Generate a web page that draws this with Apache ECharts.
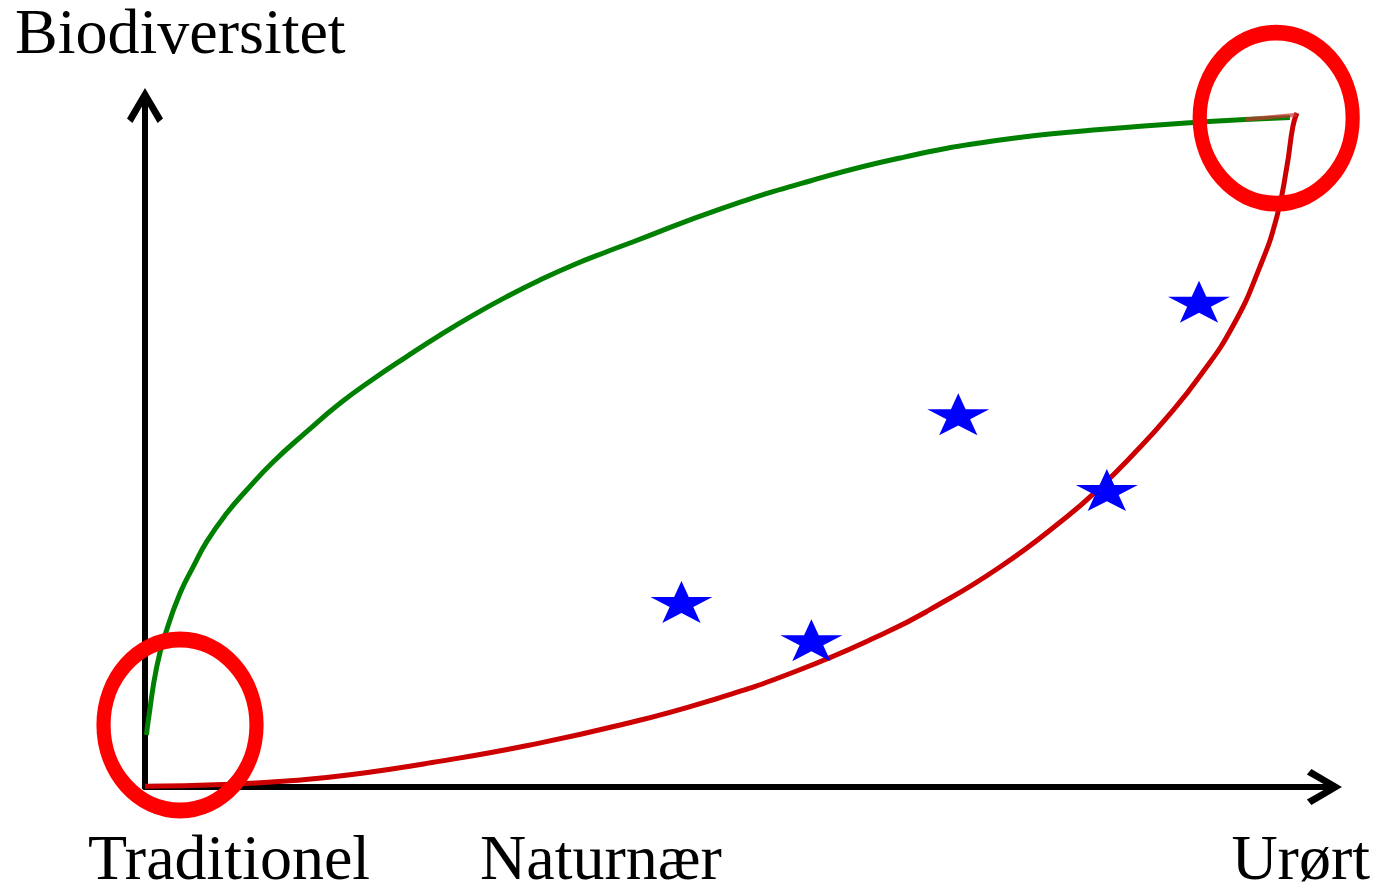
<!DOCTYPE html>
<html>
<head>
<meta charset="utf-8">
<script src="https://cdn.jsdelivr.net/npm/echarts@6/dist/echarts.min.js"></script>
<style>
html,body{margin:0;padding:0;background:#fff;}
#chart{width:1378px;height:885px;}
</style>
</head>
<body>
<div id="chart"></div>
<script>
// ---- data ----
const yTitle = 'Biodiversitet';
const xLabels = ['Traditionel', 'Naturnær', 'Urørt'];

// green curve (upper)
const greenCurve = [
  [0.13, 7.76], [0.29, 10.0], [1.02, 17.95], [1.88, 23.42], [3.04, 28.90],
  [4.19, 32.87], [5.36, 36.60], [7.09, 40.83], [8.83, 44.31], [11.14, 48.53],
  [14.04, 53.01], [16.93, 57.24], [19.82, 60.87], [22.72, 64.22], [25.61, 67.43],
  [28.50, 70.41], [31.40, 73.15], [34.29, 75.64], [37.18, 77.88], [40.08, 79.86],
  [42.39, 81.35], [49.91, 86.23], [57.73, 90.41], [65.54, 93.84], [74.22, 96.52],
  [82.90, 98.09], [91.58, 99.21], [99.39, 99.88]
];

// red curve (lower)
const redCurve = [
  [0, 0.1], [6.77, 0.37], [12.59, 0.92], [17.80, 1.82], [25.52, 3.82],
  [33.33, 6.24], [41.06, 9.17], [48.78, 12.75], [56.51, 17.27], [64.32, 23.05],
  [68.14, 26.46], [74.22, 32.82], [80.03, 40.33], [82.90, 44.65], [85.76, 49.57],
  [88.72, 55.15], [91.58, 61.32], [94.44, 68.78], [96.79, 77.64], [98.26, 85.11],
  [99.13, 92.57], [99.65, 98.57], [100.0, 100.55]
];
const redTail = [[100, 100.3], [95.5, 99.6]];

// blue stars
const stars = [
  [46.57, 27.6], [57.85, 21.9], [70.6, 55.6], [83.5, 44.3], [91.5, 72.4]
];

// red highlight circles (centres)
const circles = [
  [3.04, 9.25], [98.2, 99.8]
];

// ---- chart ----
const arrowPath = 'path://M20,0 L40,34 L34,39 L23,20 L23,40 L17,40 L17,20 L6,39 L0,34 Z';
const starPath = 'path://M50,0 L61.23,34.55 L97.55,34.55 L68.17,55.9 L79.39,90.45 L50,69.1 L20.61,90.45 L31.83,55.9 L2.45,34.55 L38.77,34.55 Z';
const ellipsePath = 'path://M50,0 C77.6,0 100,22.4 100,50 C100,77.6 77.6,100 50,100 C22.4,100 0,77.6 0,50 C0,22.4 22.4,0 50,0 Z';

const chart = echarts.init(document.getElementById('chart'));
const font = '64px "Liberation Serif", "Times New Roman", serif';

const axisCommon = {
  type: 'value',
  min: 0,
  axisLine: {
    show: true,
    symbol: ['none', arrowPath],
    symbolSize: [36, 40],
    lineStyle: { color: '#000', width: 6 }
  },
  axisTick: { show: false },
  axisLabel: { show: false },
  splitLine: { show: false }
};

chart.setOption({
  animation: false,
  backgroundColor: '#fff',
  grid: { left: 145, right: 54, top: 106, bottom: 98 },
  xAxis: Object.assign({}, axisCommon, { max: 102.35 }),
  yAxis: Object.assign({}, axisCommon, { max: 101.6 }),
  series: [
    {
      type: 'line', data: greenCurve, smooth: 0.5,
      showSymbol: false, z: 2,
      lineStyle: { color: '#008000', width: 5 }
    },
    {
      type: 'line', data: redCurve, smooth: 0.5,
      showSymbol: false, z: 2,
      lineStyle: { color: '#cc0000', width: 5 }
    },
    {
      type: 'line', data: redTail, showSymbol: false, z: 2,
      lineStyle: { color: '#cc3333', width: 4, opacity: 0.7 }
    },
    {
      type: 'scatter', data: circles, symbol: ellipsePath,
      symbolSize: [153, 171], z: 3,
      itemStyle: { color: 'rgba(0,0,0,0)', borderColor: '#ff0000', borderWidth: 15, opacity: 1 }
    },
    {
      type: 'scatter', data: stars, symbol: starPath,
      symbolSize: [62, 42], z: 4,
      itemStyle: { color: '#0000ff', opacity: 1 }
    }
  ],
  graphic: [
    { type: 'text', left: 15, top: 4, style: { text: yTitle, font: font, fill: '#000' } },
    { type: 'text', left: 88, top: 830, style: { text: xLabels[0], font: font, fill: '#000' } },
    { type: 'text', left: 480, top: 830, style: { text: xLabels[1], font: font, fill: '#000' } },
    { type: 'text', right: 8, top: 830, style: { text: xLabels[2], font: font, fill: '#000' } }
  ]
});
</script>
</body>
</html>
